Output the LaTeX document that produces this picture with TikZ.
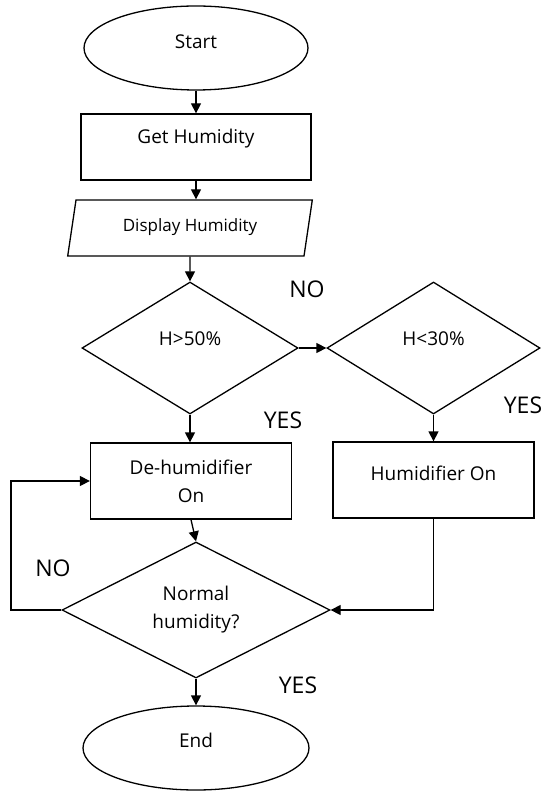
\documentclass[tikz,border=0pt]{standalone}
\usepackage{fontspec}
\setmainfont{Open Sans}
\usetikzlibrary{shapes.geometric,arrows.meta}

\tikzset{
  every node/.style={font=\fontsize{19}{28}\selectfont},
  box/.style={draw, line width=1.3pt, inner sep=0pt, align=center},
  oval/.style={box, ellipse},
  cond/.style={box, diamond},
  io/.style={box, trapezium, trapezium stretches=true,
    trapezium left angle=75.5, trapezium right angle=104.5},
  tag/.style={font=\fontsize{23}{26}\selectfont},
  line/.style={line width=1.3pt, -{Triangle[length=10pt,width=10pt]}}
}

\begin{document}
\begin{tikzpicture}[x=1pt,y=-1pt]
  \useasboundingbox (0,0) rectangle (545,791);

  % Draw the blocks
  \node[oval, minimum width=224pt, minimum height=84pt, text depth=12pt] (start) at (196,48) {Start};
  \node[box, minimum width=230pt, minimum height=66pt, text depth=22pt] (get) at (196,147) {Get Humidity};
  \node[io, minimum width=245pt, minimum height=56pt, text depth=6pt,
    font=\fontsize{17}{22}\selectfont] (disp) at (190,228) {Display Humidity};
  \node[cond, minimum width=216pt, minimum height=132pt, text depth=18pt] (high) at (190,348) {H>50\%};
  \node[cond, minimum width=213pt, minimum height=132pt, text depth=18pt] (low) at (433.5,348) {H<30\%};
  \node[box, minimum width=201pt, minimum height=76pt] (dehum) at (191,481) {De-humidifier\\On};
  \node[box, minimum width=201pt, minimum height=76pt, text depth=14pt] (hum) at (433.5,480) {Humidifier On};
  \node[cond, minimum width=268pt, minimum height=136pt] (normal) at (196,610) {Normal\\humidity?};
  \node[oval, minimum width=226pt, minimum height=84pt, text depth=16pt] (finish) at (196,748) {End};

  % Draw the labels
  \node[tag] (no1) at (307,289) {NO};
  \node[tag] (yes1) at (283,420) {YES};
  \node[tag] (yes2) at (523,405) {YES};
  \node[tag] (no2) at (53,568) {NO};
  \node[tag] (yes3) at (298,685) {YES};

  % Draw the connectors
  \draw[line] (start) -- (get);
  \draw[line] (get.south) -- (get.south |- disp.north);
  \draw[line] (disp.south) -- (high.north);
  \draw[line] (high.east) -- (low.west);
  \draw[line] (high.south) -- (dehum.north -| high.south);
  \draw[line] (low.south) -- (hum.north);
  \draw[line] (dehum.south) -- (normal.north);
  \draw[line] (hum.south) |- (normal.east);
  \coordinate (back) at (11,610);
  \draw[line] (normal.west) -- (back) |- (dehum.west);
  \draw[line] (normal.south) -- (finish.north);
\end{tikzpicture}
\end{document}
